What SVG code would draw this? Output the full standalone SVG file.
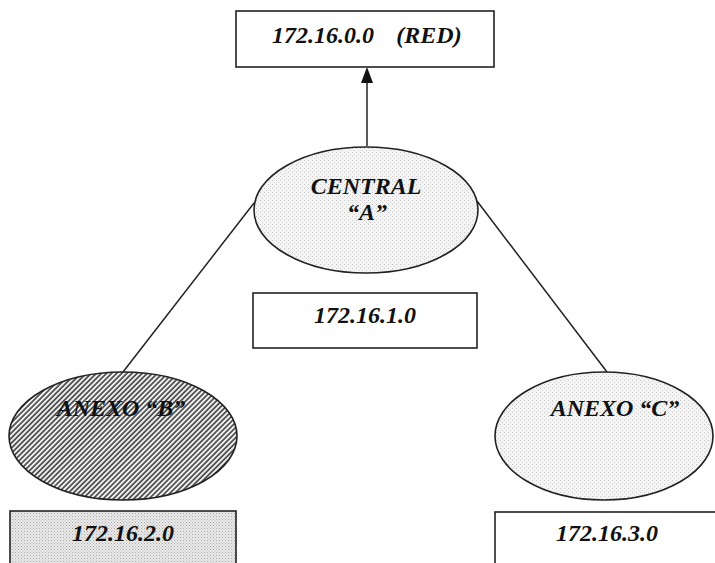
<svg xmlns="http://www.w3.org/2000/svg" width="715" height="563" viewBox="0 0 715 563">
  <style>
    .box { fill: #ffffff; stroke: #222; stroke-width: 1.6; }
    .node { stroke: #222; stroke-width: 1.6; }
    .link { stroke: #222; stroke-width: 1.5; fill: none; }
    .lbl { font-family: "Liberation Serif", "Times New Roman", serif; font-weight: bold; font-style: italic; font-size: 24px; fill: #111; text-anchor: middle; }
  </style>
  <defs>
    <!-- light grey stipple for the central and C ellipses -->
    <pattern id="stippleLight" width="4" height="4" patternUnits="userSpaceOnUse">
      <rect width="4" height="4" fill="#f4f4f4"/>
      <rect x="0" y="0" width="1" height="1" fill="#c8c8c8"/>
      <rect x="2" y="2" width="1" height="1" fill="#d6d6d6"/>
    </pattern>
    <!-- denser stipple for the 172.16.2.0 box -->
    <pattern id="stippleDense" width="3" height="3" patternUnits="userSpaceOnUse">
      <rect width="3" height="3" fill="#e8e8e8"/>
      <rect x="0" y="0" width="1" height="1" fill="#adadad"/>
      <rect x="1.5" y="1.5" width="1" height="1" fill="#c2c2c2"/>
    </pattern>
    <!-- diagonal hatching for ANEXO B -->
    <pattern id="hatch" width="3.6" height="3.6" patternUnits="userSpaceOnUse" patternTransform="rotate(45)">
      <rect width="3.6" height="3.6" fill="#f2f2f2"/>
      <line x1="0.9" y1="0" x2="0.9" y2="3.6" stroke="#333" stroke-width="1.5"/>
    </pattern>
  </defs>

  <rect width="715" height="563" fill="#ffffff"/>

  <!-- connectors -->
  <g id="connectors">
    <line class="link" x1="367" y1="146" x2="367" y2="80"/>
    <path d="M367,67 L361,83 L373,83 Z" fill="#111"/>
    <line class="link" x1="254" y1="203" x2="123" y2="372"/>
    <line class="link" x1="477" y1="201" x2="607" y2="372"/>
  </g>

  <!-- network 172.16.0.0 -->
  <g id="red">
    <rect class="box" x="236" y="11" width="258" height="56"/>
    <text class="lbl" x="366" y="43"><tspan x="323">172.16.0.0</tspan><tspan x="429">(RED)</tspan></text>
  </g>

  <!-- central site A -->
  <g id="central-a">
    <ellipse class="node" cx="366" cy="210" rx="112" ry="63" fill="url(#stippleLight)"/>
    <text class="lbl" x="366" y="194">CENTRAL</text>
    <text class="lbl" x="367" y="220">“A”</text>
  </g>

  <g id="net-a">
    <rect class="box" x="253" y="293" width="224" height="55"/>
    <text class="lbl" x="365" y="323">172.16.1.0</text>
  </g>

  <!-- annex B -->
  <g id="anexo-b">
    <ellipse class="node" cx="123" cy="436" rx="114" ry="64" fill="url(#hatch)"/>
    <text class="lbl" x="121" y="416">ANEXO “B”</text>
  </g>

  <g id="net-b">
    <rect class="box" x="10" y="511" width="226" height="60" style="fill:url(#stippleDense)"/>
    <text class="lbl" x="123" y="541">172.16.2.0</text>
  </g>

  <!-- annex C -->
  <g id="anexo-c">
    <ellipse class="node" cx="604" cy="436" rx="109" ry="64" fill="url(#stippleLight)"/>
    <text class="lbl" x="615" y="416">ANEXO “C”</text>
  </g>

  <g id="net-c">
    <rect class="box" x="495" y="512" width="230" height="60"/>
    <text class="lbl" x="607" y="541">172.16.3.0</text>
  </g>
</svg>
